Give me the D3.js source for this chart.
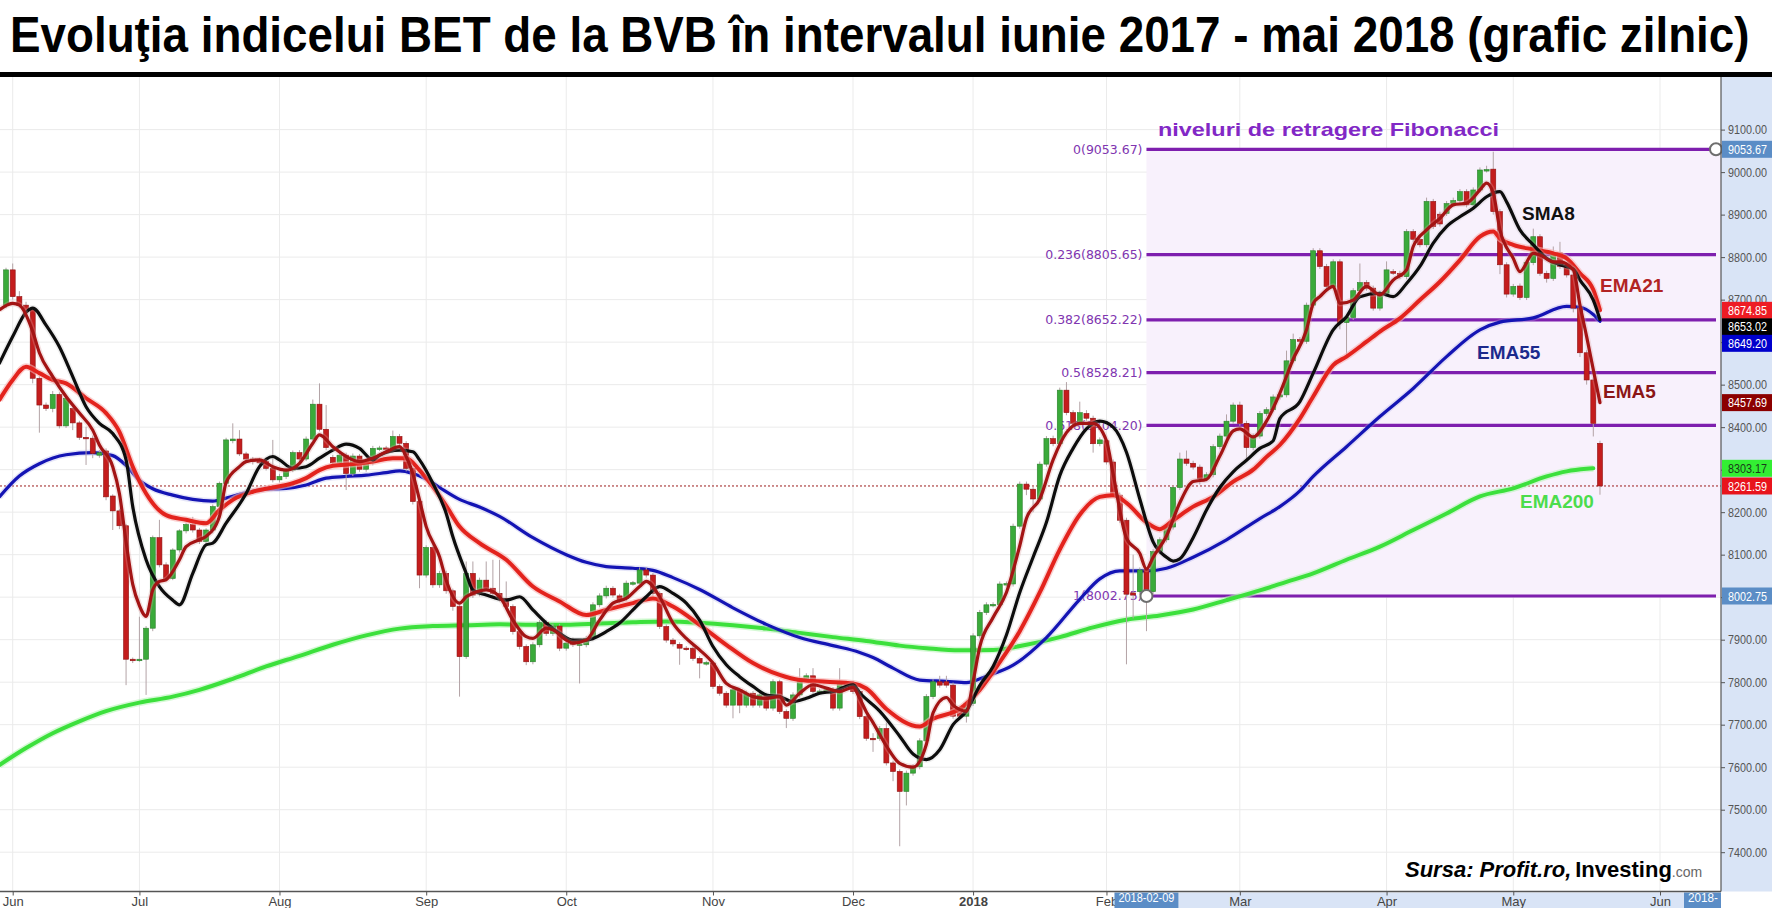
<!DOCTYPE html>
<html>
<head>
<meta charset="utf-8">
<script src="https://cdn.jsdelivr.net/npm/d3@7"></script>
<style>
  body { margin: 0; background: #fff; }
  svg { display: block; }
</style>
</head>
<body>
<div id="chart"></div>
<script>
// BET index, daily candles, trading-day index 0 = 1 Jun 2017
const firstCandle = -1;
// [open, high, low, close]
const candles = [
  [8687,8775,8680,8770],[8770,8785,8700,8707],[8707,8720,8680,8687],[8687,8695,8665,8672],[8676,8680,8503,8515],
  [8515,8520,8387,8452],[8452,8458,8438,8444],[8444,8485,8435,8477],[8477,8482,8397,8403],[8403,8475,8398,8468],
  [8444,8450,8393,8410],[8410,8415,8370,8376],[8376,8401,8311,8374],[8374,8380,8327,8338],[8334,8346,8328,8340],
  [8344,8350,8228,8236],[8238,8242,8158,8203],[8203,8208,8160,8168],[8168,8172,7793,7854],[7854,7858,7845,7852],
  [7852,7954,7848,7854],[7854,7932,7770,7927],[7927,8145,7920,8140],[8140,8182,8070,8076],[8076,8082,8038,8044],
  [8044,8115,8040,8111],[8111,8160,8105,8156],[8156,8176,8150,8171],[8171,8189,8152,8158],[8158,8163,8125,8131],
  [8131,8162,8125,8158],[8158,8218,8150,8213],[8213,8272,8205,8268],[8268,8375,8262,8370],[8368,8409,8362,8372],
  [8372,8393,8332,8337],[8337,8342,8318,8325],[8325,8330,8312,8319],[8322,8328,8310,8316],[8319,8324,8298,8303],
  [8303,8370,8270,8276],[8276,8290,8270,8284],[8284,8304,8278,8299],[8299,8345,8294,8340],[8340,8346,8318,8325],
  [8325,8378,8320,8372],[8372,8465,8366,8454],[8454,8503,8390,8395],[8395,8452,8346,8352],[8329,8335,8310,8316],
  [8316,8340,8310,8334],[8334,8340,8252,8291],[8291,8338,8285,8332],[8332,8337,8295,8301],[8301,8322,8295,8316],
  [8316,8356,8310,8350],[8350,8356,8344,8351],[8351,8356,8344,8350],[8350,8392,8345,8378],[8378,8384,8356,8362],
  [8362,8367,8296,8303],[8303,8308,8218,8225],[8225,8230,8021,8052],[8052,8122,8046,8117],[8117,8122,8022,8029],
  [8029,8062,8022,8056],[8056,8062,8008,8015],[8015,8020,7968,7978],[7978,7983,7766,7860],[7860,8084,7855,8056],
  [8056,8084,7998,8005],[8008,8046,8002,8040],[8040,8084,8015,8021],[8021,8088,8003,8009],[8009,8088,7990,7997],
  [7997,8037,7972,7978],[7978,7983,7912,7919],[7919,7924,7877,7884],[7884,7889,7840,7848],[7848,7894,7842,7888],
  [7888,7946,7882,7940],[7940,7946,7909,7915],[7915,7938,7909,7932],[7932,7937,7873,7880],[7880,7898,7874,7892],
  [7899,7905,7883,7889],[7889,7895,7797,7890],[7888,7909,7882,7903],[7903,7988,7897,7982],[7982,8009,7976,8003],
  [8003,8027,7997,8021],[8021,8026,7999,8005],[8003,8008,7987,7993],[7997,8039,7991,8033],[8033,8038,8027,8034],
  [8033,8070,8027,8064],[8064,8070,8046,8052],[8052,8057,8003,8009],[8009,8014,7925,7931],[7931,7936,7893,7899],
  [7899,7904,7884,7890],[7889,7894,7841,7880],[7880,7885,7874,7879],[7880,7885,7850,7856],[7856,7861,7809,7845],
  [7845,7850,7839,7846],[7845,7850,7784,7790],[7790,7795,7768,7774],[7774,7779,7740,7746],[7746,7788,7715,7782],
  [7782,7787,7727,7746],[7746,7780,7740,7774],[7774,7779,7740,7746],[7746,7776,7740,7770],[7770,7775,7733,7739],
  [7739,7807,7733,7801],[7801,7806,7725,7731],[7731,7736,7692,7715],[7715,7776,7709,7770],[7770,7833,7764,7809],
  [7809,7821,7803,7815],[7815,7833,7772,7778],[7778,7784,7772,7779],[7779,7786,7774,7782],[7782,7788,7733,7739],
  [7739,7833,7733,7797],[7797,7803,7791,7798],[7797,7802,7772,7778],[7778,7783,7713,7719],[7719,7724,7662,7668],
  [7668,7680,7636,7667],[7668,7697,7662,7691],[7691,7705,7604,7610],[7610,7615,7567,7590],[7590,7595,7414,7543],
  [7543,7592,7510,7586],[7586,7607,7580,7601],[7601,7668,7595,7662],[7662,7772,7656,7766],[7766,7807,7760,7801],
  [7801,7815,7787,7793],[7801,7815,7787,7793],[7793,7799,7714,7720],[7737,7742,7714,7720],[7720,7756,7705,7750],
  [7750,7915,7744,7909],[7909,7970,7903,7964],[7964,7988,7958,7982],[7982,7988,7976,7983],[7982,8037,7976,8031],
  [8031,8037,8025,8032],[8031,8173,8025,8167],[8167,8272,8161,8266],[8266,8272,8240,8254],[8254,8260,8200,8231],
  [8231,8319,8225,8313],[8313,8379,8307,8373],[8373,8380,8355,8361],[8361,8493,8355,8487],[8487,8506,8428,8434],
  [8434,8440,8403,8409],[8409,8460,8403,8434],[8432,8440,8415,8421],[8421,8427,8340,8361],[8361,8376,8355,8370],
  [8368,8374,8312,8318],[8318,8324,8234,8240],[8240,8246,8175,8181],[8181,8187,7842,8007],[8010,8100,7950,8005],
  [8013,8070,8005,8064],[8064,8070,7920,8016],[8013,8113,8005,8107],[8107,8141,8101,8135],[8135,8171,8129,8165],
  [8165,8264,8159,8258],[8258,8340,8252,8325],[8325,8345,8309,8315],[8315,8321,8300,8306],[8306,8312,8265,8279],
  [8279,8294,8273,8288],[8288,8360,8282,8354],[8354,8385,8348,8379],[8379,8430,8373,8414],[8414,8458,8408,8452],
  [8452,8460,8403,8409],[8409,8415,8318,8352],[8352,8385,8346,8379],[8379,8438,8373,8432],[8432,8447,8426,8441],
  [8441,8477,8435,8471],[8471,8482,8465,8476],[8476,8580,8470,8556],[8556,8620,8550,8606],[8606,8612,8598,8602],
  [8602,8693,8596,8687],[8687,8821,8681,8815],[8815,8821,8772,8778],[8778,8784,8725,8731],[8731,8795,8725,8789],
  [8789,8795,8630,8646],[8646,8664,8566,8658],[8658,8727,8652,8721],[8721,8785,8715,8740],[8740,8746,8721,8727],
  [8727,8733,8674,8680],[8680,8721,8674,8715],[8715,8790,8709,8770],[8766,8772,8758,8762],[8762,8768,8748,8754],
  [8754,8866,8748,8860],[8860,8866,8836,8842],[8842,8848,8823,8829],[8829,8940,8823,8931],[8931,8937,8866,8872],
  [8901,8907,8872,8878],[8903,8932,8897,8926],[8926,8940,8920,8933],[8933,8960,8927,8954],[8954,8960,8917,8923],
  [8923,8964,8917,8958],[8958,9011,8952,9005],[9005,9015,8999,9006],[9007,9048,8900,8907],[8907,8913,8760,8782],
  [8782,8788,8705,8713],[8713,8737,8707,8731],[8732,8738,8699,8705],[8705,8793,8699,8787],[8787,8867,8781,8848],
  [8848,8854,8756,8762],[8762,8768,8740,8750],[8750,8825,8744,8810],[8810,8836,8772,8778],[8778,8784,8752,8758],
  [8758,8764,8670,8680],[8680,8686,8565,8575],[8575,8581,8500,8511],[8511,8517,8378,8409],[8362,8368,8241,8261.59]
];

// moving averages: [trading-day index, value]
const ema5 = [[-2,8676],[0,8691],[1,8687],[3,8625],[4,8575],[6,8519],[8,8472],[10,8433],[12,8393],[13,8358],[15,8307],[16,8244],[17,8130],[18,8030],[19,7980],[20,7955],[21,8017],[22,8037],[23,8041],[25,8088],[26,8119],[28,8135],[29,8143],[31,8190],[32,8270],[34,8307],[35,8319],[37,8323],[39,8307],[41,8299],[43,8315],[45,8362],[46,8382],[48,8354],[50,8331],[52,8319],[54,8327],[56,8342],[58,8354],[59,8331],[60,8290],[61,8229],[62,8166],[64,8095],[65,8040],[67,7986],[68,8001],[69,8009],[71,8017],[73,8001],[75,7946],[77,7907],[78,7903],[80,7927],[81,7923],[83,7899],[84,7892],[86,7899],[88,7946],[90,7986],[92,7997],[94,8025],[95,8037],[97,8001],[99,7939],[101,7903],[103,7876],[105,7845],[107,7797],[109,7782],[111,7766],[113,7762],[115,7766],[116,7746],[118,7774],[120,7794],[122,7786],[124,7778],[126,7788],[127,7762],[128,7730],[129,7705],[131,7650],[133,7609],[135,7600],[137,7654],[138,7728],[140,7764],[141,7746],[143,7732],[144,7801],[145,7883],[147,7952],[149,8011],[151,8121],[152,8185],[154,8231],[156,8323],[158,8387],[160,8409],[162,8409],[164,8368],[165,8290],[167,8139],[169,8103],[170,8066],[171,8094],[173,8144],[175,8222],[177,8272],[179,8277],[181,8332],[183,8391],[184,8396],[186,8377],[188,8414],[190,8480],[192,8560],[194,8629],[195,8691],[196,8707],[198,8731],[199,8691],[201,8699],[203,8731],[205,8711],[207,8746],[209,8770],[210,8825],[212,8864],[214,8891],[216,8923],[218,8927],[220,8958],[221,8974],[222,8950],[223,8864],[225,8797],[226,8766],[228,8809],[229,8805],[231,8789],[232,8789],[234,8770],[235,8687],[236,8613],[237,8535],[238,8457.69]];
const sma8 = [[-2,8550],[0,8613],[2,8670],[3,8680],[5,8640],[7,8589],[9,8519],[11,8448],[13,8409],[15,8385],[17,8323],[18,8213],[20,8088],[22,8025],[24,7993],[25,7982],[27,8056],[29,8123],[30,8127],[32,8174],[35,8244],[37,8307],[39,8331],[40,8323],[42,8303],[44,8307],[46,8327],[48,8346],[50,8360],[52,8350],[54,8323],[55,8334],[58,8346],[60,8342],[61,8323],[63,8268],[65,8197],[66,8142],[68,8056],[69,8017],[71,8005],[74,7993],[76,8001],[78,7970],[80,7939],[82,7915],[84,7899],[86,7899],[89,7919],[91,7939],[93,7970],[95,8001],[97,8025],[99,8009],[101,7986],[103,7946],[105,7884],[107,7841],[109,7813],[111,7790],[113,7770],[115,7766],[117,7754],[119,7762],[121,7774],[123,7778],[126,7794],[127,7775],[130,7732],[133,7673],[135,7631],[137,7618],[139,7641],[141,7700],[143,7732],[145,7792],[147,7837],[149,7911],[151,8011],[153,8094],[155,8176],[157,8286],[159,8350],[161,8396],[163,8414],[165,8400],[167,8341],[169,8231],[171,8130],[173,8094],[174,8085],[175,8090],[177,8140],[179,8205],[181,8258],[183,8295],[185,8322],[187,8350],[189,8368],[190,8420],[193,8460],[195,8527],[198,8629],[200,8660],[202,8707],[205,8715],[207,8707],[209,8738],[211,8778],[213,8833],[215,8872],[217,8895],[219,8915],[221,8942],[223,8954],[224,8930],[226,8864],[228,8829],[230,8797],[232,8782],[234,8772],[235,8746],[237,8699],[238,8653.02]];
const ema21 = [[-2,8464],[0,8511],[2,8542],[4,8527],[6,8511],[8,8503],[11,8468],[14,8433],[16,8389],[18,8307],[20,8244],[23,8193],[26,8182],[29,8174],[31,8205],[33,8229],[36,8248],[39,8258],[42,8268],[44,8280],[46,8299],[48,8309],[51,8313],[54,8319],[57,8327],[59,8327],[61,8299],[63,8260],[65,8215],[67,8166],[70,8127],[74,8088],[78,8025],[82,7990],[86,7958],[89,7970],[93,7986],[96,7997],[99,7978],[103,7935],[107,7888],[111,7845],[115,7817],[118,7805],[122,7801],[126,7797],[128,7785],[131,7737],[136,7696],[138,7714],[142,7737],[145,7782],[148,7847],[151,7920],[154,8011],[157,8112],[160,8194],[163,8236],[165,8240],[167,8222],[170,8176],[172,8160],[174,8181],[177,8213],[180,8236],[183,8272],[186,8300],[188,8330],[190,8358],[193,8420],[195,8472],[198,8546],[200,8566],[203,8601],[205,8625],[208,8656],[211,8699],[214,8742],[217,8793],[220,8848],[222,8860],[223,8844],[225,8829],[228,8818],[231,8809],[233,8797],[235,8762],[237,8723],[238,8674.85]];
const ema55 = [[-2,8236],[1,8285],[4,8314],[8,8335],[12,8340],[15,8333],[17,8310],[19,8275],[21,8255],[24,8240],[27,8230],[30,8226],[32,8233],[35,8246],[38,8254],[41,8256],[44,8264],[47,8280],[50,8284],[53,8287],[56,8293],[58,8297],[60,8291],[62,8278],[64,8258],[67,8230],[70,8212],[73,8190],[78,8140],[83,8100],[86,8082],[89,8072],[93,8068],[96,8063],[99,8046],[103,8018],[108,7975],[113,7936],[118,7905],[123,7886],[127,7870],[129,7858],[132,7833],[136,7805],[140,7802],[143,7799],[146,7814],[150,7840],[155,7905],[160,7995],[163,8043],[166,8062],[170,8062],[173,8068],[177,8094],[182,8135],[187,8185],[190,8213],[193,8250],[195,8284],[200,8354],[205,8425],[210,8491],[215,8566],[220,8629],[223,8647],[228,8657],[233,8684],[235,8682],[237,8665],[238,8649.20]];
const ema200 = [[-2,7605],[2,7645],[6,7680],[10,7708],[14,7732],[19,7752],[24,7766],[28,7782],[33,7808],[38,7837],[43,7862],[48,7888],[53,7910],[58,7926],[63,7932],[68,7934],[73,7936],[78,7935],[83,7935],[88,7938],[93,7941],[98,7943],[103,7940],[108,7934],[113,7926],[118,7916],[123,7906],[128,7897],[133,7886],[137,7880],[142,7875],[147,7876],[152,7888],[157,7906],[162,7929],[167,7947],[172,7957],[177,7971],[182,7993],[187,8016],[191,8036],[195,8056],[200,8088],[205,8119],[210,8158],[215,8197],[220,8237],[225,8256],[230,8284],[233,8296],[236,8302],[237,8303.17]];

const fibRatios = ["0", "0.236", "0.382", "0.5", "0.618", "1"];
const fibValues = [9053.67, 8805.65, 8652.22, 8528.21, 8404.20, 8002.75];
const fibStart = 170;   // 2018-02-09

const monthIdx = [0, 19, 40, 62, 83, 105, 126, 144, 164, 184, 206, 225, 247];
const monthNames = ["Jun", "Jul", "Aug", "Sep", "Oct", "Nov", "Dec", "2018", "Feb", "Mar", "Apr", "May", "Jun"];
const priceTicks = d3.range(7400, 9101, 100);

// last values shown on the price axis
const badges = [
  { v: 9053.67, bg: "#5b8dc6", fg: "#fff" },
  { v: 8674.85, bg: "#ee1c24", fg: "#fff" },
  { v: 8653.02, bg: "#000000", fg: "#fff" },
  { v: 8649.20, bg: "#0000cc", fg: "#fff" },
  { v: 8457.69, bg: "#8b0000", fg: "#fff" },
  { v: 8303.17, bg: "#33ee33", fg: "#1a3a1a" },
  { v: 8261.59, bg: "#e8141c", fg: "#fff" },
  { v: 8002.75, bg: "#5b8dc6", fg: "#fff" }
];

const W = 1772, H = 908;
const plot = { left: 0, right: 1721, top: 77, bottom: 891.5 };
const narrow = "'Liberation Sans Narrow', 'Arial Narrow', 'Liberation Sans', Arial, sans-serif";

const svg = d3.select("#chart").append("svg")
  .attr("width", W).attr("height", H)
  .style("font-family", "'Liberation Sans', Arial, sans-serif");

const x = d3.scaleLinear().domain([0, 247]).range([12.7, 1660]);
const y = d3.scaleLinear().domain([8002.75, 9053.67]).range([596, 149.3]);

// squeeze a start-anchored text horizontally so it is at most `width` wide
function fitWidth(sel, width) {
  sel.each(function () {
    const w = this.getComputedTextLength();
    if (w <= width) return;
    const x0 = +this.getAttribute("x") || 0;
    const s = width / w;
    const prev = this.getAttribute("transform") || "";
    this.setAttribute("transform", `${prev} translate(${x0},0) scale(${s},1) translate(${-x0},0)`);
  });
}

svg.append("defs").append("clipPath").attr("id", "plotclip")
  .append("rect")
  .attr("x", plot.left).attr("y", plot.top)
  .attr("width", plot.right - plot.left).attr("height", plot.bottom - plot.top);

// Title
svg.append("text")
  .attr("x", 10).attr("y", 52)
  .style("font-family", narrow)
  .style("font-weight", "bold").style("font-size", "50px").attr("fill", "#000")
  .text("Evoluţia indicelui BET de la BVB în intervalul iunie 2017 - mai 2018 (grafic zilnic)")
  .call(fitWidth, 1740);
svg.append("rect").attr("x", 0).attr("y", 72).attr("width", W).attr("height", 5).attr("fill", "#000");

// price axis column
svg.append("rect")
  .attr("x", plot.right).attr("y", plot.top)
  .attr("width", W - plot.right).attr("height", plot.bottom - plot.top)
  .attr("fill", "#d9e4f6");

const body = svg.append("g").attr("clip-path", "url(#plotclip)");

// grid
body.append("g").selectAll("line").data(priceTicks).join("line")
  .attr("x1", plot.left).attr("x2", plot.right)
  .attr("y1", d => y(d)).attr("y2", d => y(d))
  .attr("stroke", "#ebebeb").attr("stroke-width", 1);
body.append("g").selectAll("line").data(monthIdx).join("line")
  .attr("x1", d => x(d)).attr("x2", d => x(d))
  .attr("y1", plot.top).attr("y2", plot.bottom)
  .attr("stroke", "#ebebeb").attr("stroke-width", 1);

// Fibonacci zone
const fibEnd = 1716;
body.append("rect")
  .attr("x", x(fibStart)).attr("y", y(fibValues[0]))
  .attr("width", plot.right - x(fibStart))
  .attr("height", y(fibValues[5]) - y(fibValues[0]))
  .attr("fill", "#f8f1fc");

body.append("g").selectAll("line").data(fibValues).join("line")
  .attr("x1", x(fibStart)).attr("x2", fibEnd)
  .attr("y1", d => y(d)).attr("y2", d => y(d))
  .attr("stroke", "#7e1fae").attr("stroke-width", 3.2);

body.append("g").selectAll("text").data(fibValues).join("text")
  .attr("x", x(fibStart) - 4).attr("y", d => y(d)).attr("dy", "0.35em")
  .attr("text-anchor", "end")
  .style("font-family", "'DejaVu Sans', Verdana, sans-serif").style("font-size", "12.5px")
  .attr("fill", "#8035b0")
  .text((d, i) => `${fibRatios[i]}(${d.toFixed(2)})`);

// current price dotted line
body.append("line")
  .attr("x1", plot.left).attr("x2", plot.right)
  .attr("y1", y(8261.59)).attr("y2", y(8261.59))
  .attr("stroke", "#9b1c1c").attr("stroke-width", 1).attr("stroke-dasharray", "2,2");

// moving averages
const line = d3.line().x(d => x(d[0])).y(d => y(d[1])).curve(d3.curveMonotoneX);

function drawLine(data, color, width, halo, haloOpacity) {
  if (halo) {
    body.append("path").datum(data).attr("d", line)
      .attr("fill", "none").attr("stroke", halo).attr("stroke-width", width + 3)
      .attr("stroke-linejoin", "round").attr("stroke-opacity", haloOpacity);
  }
  body.append("path").datum(data).attr("d", line)
    .attr("fill", "none").attr("stroke", color).attr("stroke-width", width)
    .attr("stroke-linejoin", "round").attr("stroke-linecap", "round");
}

drawLine(ema200, "#3ce03c", 4, "#b9f5b9", 0.6);
drawLine(ema55, "#1414b4", 3.2, "#a9a9e8", 0.3);

// candles
const cg = body.append("g");
const bw = 5;
candles.forEach((c, k) => {
  const i = firstCandle + k;
  const [o, h, l, cl] = c;
  const up = cl >= o;
  const cx = x(i);
  cg.append("line")
    .attr("x1", cx).attr("x2", cx)
    .attr("y1", y(h)).attr("y2", y(l))
    .attr("stroke", "#b3a3a6").attr("stroke-width", 1);
  const top = y(Math.max(o, cl)), bot = y(Math.min(o, cl));
  cg.append("rect")
    .attr("x", cx - bw / 2).attr("y", top)
    .attr("width", bw).attr("height", Math.max(1.5, bot - top))
    .attr("fill", up ? "#3aaa3a" : "#c41d1d")
    .attr("stroke", up ? "#2a7f2a" : "#8e1212").attr("stroke-width", 0.6);
});

drawLine(ema21, "#e3231d", 4, "#f7b3b3", 0.6);
drawLine(sma8, "#0d0d0d", 3.2, "#bdbdbd", 0.25);
drawLine(ema5, "#a31414", 3.2, "#dca0a0", 0.3);

// fib anchor circles
[[x(fibStart), y(fibValues[5])], [fibEnd, y(fibValues[0])]].forEach(p => {
  svg.append("circle").attr("cx", p[0]).attr("cy", p[1]).attr("r", 6)
    .attr("fill", "#fff").attr("stroke", "#6e6e6e").attr("stroke-width", 2);
});

// annotations
svg.append("text").attr("x", 1158).attr("y", 136)
  .attr("textLength", 341).attr("lengthAdjust", "spacingAndGlyphs")
  .style("font-weight", "bold").style("font-size", "19px").attr("fill", "#8228c6")
  .text("niveluri de retragere Fibonacci");

const maLabels = [
  { t: "SMA8", x: 1522, y: 220, c: "#111111" },
  { t: "EMA21", x: 1600, y: 292, c: "#b22424" },
  { t: "EMA55", x: 1477, y: 359, c: "#1c2a8c" },
  { t: "EMA5", x: 1603, y: 398, c: "#8b1616" },
  { t: "EMA200", x: 1520, y: 508, c: "#4cdc4c" }
];
svg.append("g").selectAll("text").data(maLabels).join("text")
  .attr("x", d => d.x).attr("y", d => d.y)
  .style("font-weight", "bold").style("font-size", "19px")
  .attr("fill", d => d.c).text(d => d.t);

// price axis
svg.append("line").attr("x1", plot.right).attr("x2", plot.right)
  .attr("y1", plot.top).attr("y2", plot.bottom).attr("stroke", "#555").attr("stroke-width", 1.2);
const yAxis = svg.append("g").attr("transform", `translate(${plot.right},0)`)
  .call(d3.axisRight(y).tickValues(priceTicks).tickFormat(d3.format(".2f")).tickSize(4).tickPadding(3));
yAxis.select(".domain").remove();
yAxis.selectAll("line").attr("stroke", "#555");
yAxis.selectAll("text").attr("fill", "#555")
  .style("font-family", narrow).style("font-size", "13px")
  .call(fitWidth, 39);

// badges, pushed apart where they collide
const bh = 17;
const placed = badges.map(b => ({ ...b, py: y(b.v) })).sort((a, b) => a.py - b.py);
for (let k = 1; k < placed.length; k++) {
  if (placed[k].py - placed[k - 1].py < bh - 0.5) placed[k].py = placed[k - 1].py + bh - 0.5;
}
const bg = svg.append("g");
placed.forEach(b => {
  bg.append("rect").attr("x", plot.right + 1).attr("y", b.py - bh / 2)
    .attr("width", W - plot.right - 1).attr("height", bh).attr("fill", b.bg);
  bg.append("text").attr("x", plot.right + 7).attr("y", b.py).attr("dy", "0.36em")
    .style("font-family", narrow).style("font-size", "13px")
    .attr("fill", b.fg).text(b.v.toFixed(2))
    .call(fitWidth, 39);
});

// time axis
const xAxis = svg.append("g").attr("transform", `translate(0,${plot.bottom})`)
  .call(d3.axisBottom(x).tickValues(monthIdx).tickFormat((d, i) => monthNames[i]).tickSize(4).tickPadding(1));
xAxis.select(".domain").remove();
xAxis.selectAll("line").attr("stroke", "#555");
xAxis.selectAll("text").attr("fill", "#444")
  .style("font-family", narrow)
  .style("font-size", "13px")
  .style("font-weight", (d, i) => monthNames[i] === "2018" ? "bold" : "normal");

// highlighted range on the time axis
svg.append("rect").attr("x", x(fibStart) + 32).attr("y", plot.bottom + 1)
  .attr("width", fibEnd - x(fibStart) - 32).attr("height", H - plot.bottom)
  .attr("fill", "#d9e4f6");
svg.node().appendChild(xAxis.node());
svg.append("rect").attr("x", x(fibStart) - 32).attr("y", plot.bottom + 1)
  .attr("width", 64).attr("height", H - plot.bottom).attr("fill", "#5b8dc6");
svg.append("text").attr("x", x(fibStart) - 28).attr("y", plot.bottom + 11)
  .style("font-family", narrow).style("font-size", "13px")
  .attr("fill", "#fff").text("2018-02-09")
  .call(fitWidth, 56);
svg.append("rect").attr("x", fibEnd - 32).attr("y", plot.bottom + 1)
  .attr("width", plot.right - fibEnd + 32).attr("height", H - plot.bottom).attr("fill", "#5b8dc6");
svg.append("text").attr("x", fibEnd - 28).attr("y", plot.bottom + 11)
  .style("font-family", narrow).style("font-size", "13px")
  .attr("fill", "#fff").text("2018-")
  .call(fitWidth, 30);

svg.append("line").attr("x1", plot.left).attr("x2", plot.right)
  .attr("y1", plot.bottom).attr("y2", plot.bottom).attr("stroke", "#555").attr("stroke-width", 1.5);

// source
const src = svg.append("text").attr("x", 1405).attr("y", 877);
src.append("tspan").style("font-weight", "bold").style("font-style", "italic").style("font-size", "22px")
  .attr("fill", "#000").text("Sursa: Profit.ro,");
src.append("tspan").attr("dx", 4).style("font-weight", "bold").style("font-size", "22px")
  .style("font-family", narrow)
  .attr("fill", "#000").text("Investing");
src.append("tspan").style("font-size", "14px").attr("fill", "#666").text(".com");
</script>
</body>
</html>
